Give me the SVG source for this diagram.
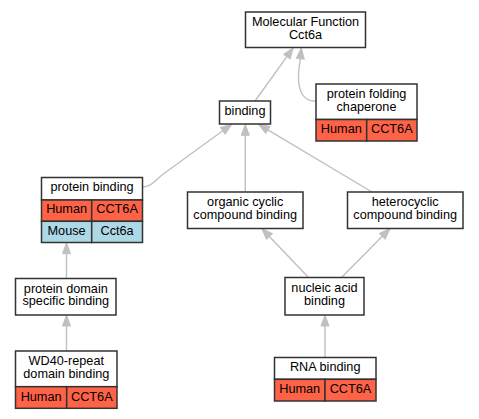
<svg xmlns="http://www.w3.org/2000/svg" width="479" height="419" viewBox="0 0 479 419">
<style>
  .box{fill:#ffffff;stroke:#333333;stroke-width:1.5}
  .hum{fill:#ff6347;stroke:#333333;stroke-width:1.5}
  .mou{fill:#add8e6;stroke:#333333;stroke-width:1.5}
  .ln{fill:none;stroke:#333333;stroke-width:1.5}
  text{font-family:"Liberation Sans",Arial,sans-serif;font-size:12.7px;fill:#000000;text-anchor:middle}
  .edge{fill:none;stroke:#c0c0c0;stroke-width:1.4}
</style>
<defs>
  <marker id="arr" markerUnits="userSpaceOnUse" markerWidth="12" markerHeight="10" refX="0" refY="5" orient="auto" viewBox="0 0 12 10" overflow="visible">
    <path d="M0,1 L11,5 L0,9 z" fill="#c0c0c0" stroke="#c0c0c0" stroke-width="1"/>
  </marker>
</defs>
<rect width="479" height="419" fill="#ffffff"/>
<g id="connectors">
  <path class="edge" marker-end="url(#arr)" d="M255,101 L286.9,56.7"/>
  <path class="edge" marker-end="url(#arr)" d="M316,101 C303,102 298,90 298.5,75 C298.8,68 300,62 300.3,58.8"/>
  <path class="edge" marker-end="url(#arr)" d="M142.5,187 C152,187 156,179 164,173.5 L222.8,130.8"/>
  <path class="edge" marker-end="url(#arr)" d="M245.3,192 L245.3,135.3"/>
  <path class="edge" marker-end="url(#arr)" d="M372,192 L267.9,129.9"/>
  <path class="edge" marker-end="url(#arr)" d="M308.5,277.5 L269.4,236.5"/>
  <path class="edge" marker-end="url(#arr)" d="M341.5,277.5 L382.3,236.3"/>
  <path class="edge" marker-end="url(#arr)" d="M325,357.5 L325,326"/>
  <path class="edge" marker-end="url(#arr)" d="M66.5,278.5 L66.5,253.7"/>
  <path class="edge" marker-end="url(#arr)" d="M66.5,351 L66.5,326"/>
</g>
<g id="mf">
  <rect class="box" x="245.5" y="12" width="120" height="35.5"/>
  <text x="305.5" y="26">Molecular Function</text>
  <text x="305.5" y="38.7">Cct6a</text>
</g>
<g id="chaperone">
  <rect class="box" x="316" y="84" width="101" height="35.5"/>
  <rect class="hum" x="316" y="119.5" width="50.7" height="21.5"/>
  <rect class="hum" x="366.7" y="119.5" width="50.3" height="21.5"/>
  <text x="366.5" y="98.2">protein folding</text>
  <text x="366.5" y="110.9">chaperone</text>
  <text x="341.3" y="133.2">Human</text>
  <text x="391.8" y="133.2">CCT6A</text>
</g>
<g id="binding">
  <rect class="box" x="219.5" y="101" width="51" height="23"/>
  <text x="245" y="115.3">binding</text>
</g>
<g id="protein_binding">
  <rect class="box" x="41.5" y="177.5" width="101" height="22.5"/>
  <rect class="hum" x="41.5" y="200" width="50.2" height="21.3"/>
  <rect class="hum" x="91.7" y="200" width="50.8" height="21.3"/>
  <rect class="mou" x="41.5" y="221.3" width="50.2" height="21.2"/>
  <rect class="mou" x="91.7" y="221.3" width="50.8" height="21.2"/>
  <text x="92" y="190.8">protein binding</text>
  <text x="66.6" y="213.4">Human</text>
  <text x="117.1" y="213.4">CCT6A</text>
  <text x="66.6" y="235">Mouse</text>
  <text x="117.1" y="235">Cct6a</text>
</g>
<g id="organic_cyclic">
  <rect class="box" x="187.5" y="192" width="115.5" height="36.5"/>
  <text x="245.2" y="206">organic cyclic</text>
  <text x="245.2" y="218.6">compound binding</text>
</g>
<g id="heterocyclic">
  <rect class="box" x="347.5" y="192" width="115.5" height="36.5"/>
  <text x="405.2" y="206">heterocyclic</text>
  <text x="405.2" y="218.6">compound binding</text>
</g>
<g id="nucleic_acid">
  <rect class="box" x="285" y="277.5" width="79" height="37.5"/>
  <text x="324.5" y="292">nucleic acid</text>
  <text x="324.5" y="304.7">binding</text>
</g>
<g id="protein_domain">
  <rect class="box" x="15.5" y="278.5" width="100.5" height="36.5"/>
  <text x="65.8" y="292.5">protein domain</text>
  <text x="65.8" y="305.2">specific binding</text>
</g>
<g id="wd40">
  <rect class="box" x="15.5" y="351" width="101.5" height="35.7"/>
  <rect class="hum" x="15.5" y="386.7" width="51.2" height="21.6"/>
  <rect class="hum" x="66.7" y="386.7" width="50.3" height="21.6"/>
  <text x="66.3" y="365">WD40-repeat</text>
  <text x="66.3" y="377.7">domain binding</text>
  <text x="41.1" y="400.5">Human</text>
  <text x="91.8" y="400.5">CCT6A</text>
</g>
<g id="rna_binding">
  <rect class="box" x="274.5" y="357.5" width="101.5" height="21.8"/>
  <rect class="hum" x="274.5" y="379.3" width="50.5" height="21.7"/>
  <rect class="hum" x="325" y="379.3" width="51" height="21.7"/>
  <text x="325.2" y="371.3">RNA binding</text>
  <text x="299.7" y="393">Human</text>
  <text x="350.5" y="393">CCT6A</text>
</g>
</svg>
